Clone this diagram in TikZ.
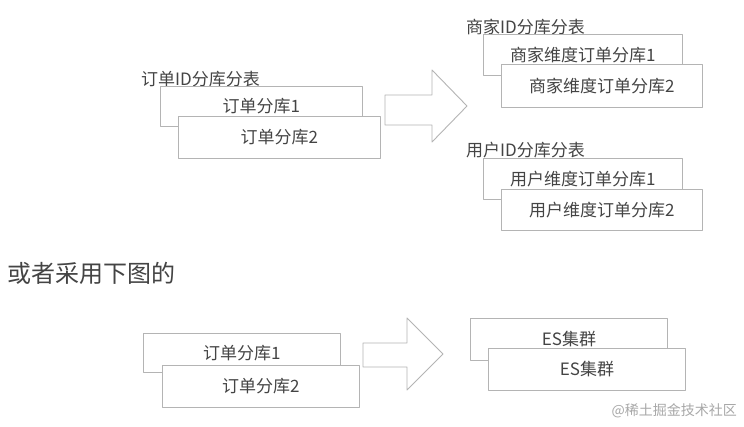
\documentclass[tikz,border=0pt]{standalone}
\usepackage{fontspec}
\newfontfamily\cjk{Noto Sans CJK SC}
\usepackage{tikz}
\usetikzlibrary{positioning}
\definecolor{boxline}{HTML}{B4B4B4}
\definecolor{ink}{HTML}{444444}
\definecolor{mark}{HTML}{A8A8A8}
\tikzset{
  every picture/.style={
    line join=round,
    line cap=round,
  },
  shard/.style={draw=boxline, fill=white, line width=0.9pt, text=ink,
    minimum width=200pt, minimum height=41pt, inner sep=0pt, anchor=north west,
    font=\cjk\fontsize{17}{19}\selectfont},
  grouplabel/.style={text=ink, inner sep=0pt, anchor=west,
    font=\cjk\fontsize{17}{19}\selectfont},
  bigarrow/.style={draw=boxline, fill=white, line width=0.9pt},
}
\begin{document}
\begin{tikzpicture}[x=1pt, y=-1pt]
    \useasboundingbox[fill=white] (0,0) rectangle (744,426);

    % Order shards
    \node[grouplabel] (orderlbl) at (141,79) {订单ID分库分表};
    \node[shard, minimum width=202pt, minimum height=40pt] (order1) at (160,86) {订单分库1};
    \node[shard, minimum width=202pt, minimum height=42pt] (order2) at (178,116) {订单分库2};

    % Arrow
    \draw[bigarrow] (385,95) -- (432,95) -- (432,70) -- (467,106)
        -- (432,142) -- (432,125) -- (385,125) -- cycle;

    % Merchant shards
    \node[grouplabel] (shoplbl) at (466,27) {商家ID分库分表};
    \node[shard, minimum width=199pt] (shop1) at (483,34) {商家维度订单分库1};
    \node[shard, minimum width=201pt, minimum height=43pt] (shop2) at (501,64) {商家维度订单分库2};

    % User shards
    \node[grouplabel] (userlbl) at (466,150) {用户ID分库分表};
    \node[shard, minimum width=199pt] (user1) at (483,158) {用户维度订单分库1};
    \node[shard, minimum width=201pt, minimum height=41pt] (user2) at (501,189) {用户维度订单分库2};

    % Or
    \node[text=ink, inner sep=0pt, anchor=west, font=\cjk\fontsize{24}{26}\selectfont]
        (ortext) at (7,273) {或者采用下图的};

    % Order shards, second layout
    \node[shard, minimum width=197pt, minimum height=39pt] (low1) at (143,333) {订单分库1};
    \node[shard, minimum width=197pt, minimum height=42pt] (low2) at (162,365) {订单分库2};

    % Arrow
    \draw[bigarrow] (363,343) -- (407,343) -- (407,318) -- (443,354)
        -- (407,390) -- (407,367) -- (363,367) -- cycle;

    % ES clusters
    \node[shard, minimum width=197pt, minimum height=42pt] (es1) at (470,318) {ES集群};
    \node[shard, minimum width=197pt, minimum height=42pt] (es2) at (488,348) {ES集群};

    \node[text=mark, inner sep=0pt, anchor=east, font=\cjk\fontsize{14}{16}\selectfont]
        (wm) at (737,411) {@稀土掘金技术社区};
\end{tikzpicture}
\end{document}
